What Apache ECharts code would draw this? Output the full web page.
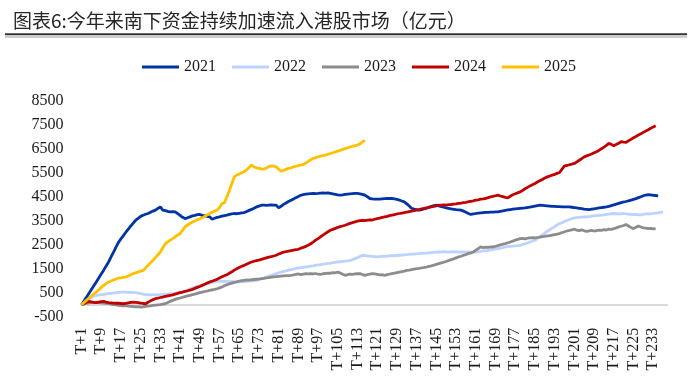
<!DOCTYPE html>
<html>
<head>
<meta charset="utf-8">
<script src="https://cdn.jsdelivr.net/npm/echarts@6/dist/echarts.min.js"></script>
<style>
html,body{margin:0;padding:0;background:#fff;}
#chart{width:692px;height:381px;}
</style>
</head>
<body>
<div id="chart"></div>
<script>
// ---- data ----
var titleText = '图表6:今年来南下资金持续加速流入港股市场（亿元）';
var seriesNames = ['2021', '2022', '2023', '2024', '2025'];
var categoryCount = 239;
var categories = [];
for (var i = 1; i <= categoryCount; i++) categories.push('T+' + i);

var y2021 = [0,150,310,470,630,790,950,
1110,1280,1440,1610,1780,
1990,2190,2400,2600,
2740,2880,3020,3150,
3280,3400,3520,
3600,3680,3730,3770,3800,
3850,3900,3940,4010,4075,
3940,3920,3890,3870,3880,3870,
3800,3720,3640,3590,3620,3660,
3700,3720,3750,3760,
3720,3700,3680,3660,3560,
3600,3640,3660,3690,3710,3730,
3760,3780,3800,3790,3810,3830,3840,
3880,3930,3970,4020,4075,4110,4145,
4150,4140,4150,4160,4150,4145,
4040,4100,4180,4240,4300,4355,
4400,4460,4510,4560,4590,
4610,4620,4630,4640,4630,4635,4650,4660,4650,4660,
4640,4620,4600,4580,4565,
4580,4600,4610,4620,4630,4640,4635,
4620,4600,4565,4500,4425,4410,4400,4395,
4400,4410,4420,4430,4425,4425,
4410,4390,4360,4320,4285,
4200,4110,4010,3980,3960,3940,
3960,3990,4020,4060,4100,4130,4145,
4120,4090,4060,4030,4010,
3990,3975,3960,3950,3940,
3900,3850,3800,3760,
3780,3800,3820,3830,3840,
3845,3850,3855,3860,3865,3870,
3890,3910,3930,3950,3965,3980,
3995,4005,4015,4025,4035,
4050,4070,4090,4110,4130,4145,
4140,4130,4120,4110,4100,4095,4090,4085,4080,4080,4078,4075,
4060,4045,4030,4015,4000,3985,3975,3965,
3980,3995,4010,4030,4045,4060,4075,
4100,4130,4160,4190,4220,4250,4280,4300,4330,4355,
4390,4420,4460,4500,4540,4570,4590,
4580,4560,4550,4535];

var y2022 = [0,80,160,230,300,350,390,
400,420,430,450,460,
470,480,500,510,520,525,
520,515,510,505,500,
480,460,440,415,
420,410,415,420,410,415,415,
430,440,450,460,470,490,510,525,
560,600,650,700,730,770,800,
830,850,880,900,930,950,975,
980,970,980,975,
960,970,955,960,950,955,960,
970,985,995,1005,1015,
1050,1080,1110,1150,1190,1225,
1260,1290,1330,1360,
1390,1410,1440,1460,1480,1510,1530,
1540,1560,1570,1590,1610,1620,1640,1660,
1670,1690,1700,1720,1730,1750,1760,1780,
1790,1800,1820,1830,1850,
1880,1920,1960,2010,2060,
2050,2030,2020,2010,2000,1990,
2000,2010,2010,2020,2030,2040,2040,2050,2060,2070,2080,2090,
2100,2110,2110,2120,2130,2140,2150,2150,2160,2170,2180,2190,2195,
2200,2210,2200,2190,2200,2210,2200,2190,2195,2200,2190,2200,2190,2195,
2205,2215,2225,2240,2250,2265,
2280,2300,2320,2340,2360,2380,2405,
2420,2430,2440,2450,2460,2475,
2510,2540,2570,2610,2650,2685,
2760,2830,2900,2980,3060,
3120,3190,3250,3320,3380,
3420,3470,3510,3550,3590,3615,
3630,3640,3650,3655,3660,
3670,3690,3700,3710,3720,3730,
3740,3760,3770,3790,3800,
3790,3780,3790,3800,3780,3770,3760,3750,3760,3740,3740,
3760,3780,3790,3780,3800,
3820,3830,3850,3865];

var y2023 = [0,30,60,80,100,90,110,
90,80,70,60,40,
20,0,-10,-30,
-40,-50,-40,-60,
-70,-80,-90,-80,-100,
-90,-70,-60,-50,-30,
-20,-10,0,20,40,
90,140,180,220,
250,280,310,340,370,390,
420,440,470,500,525,
550,570,600,620,640,665,
700,740,790,835,
870,900,930,950,980,1000,1015,
1030,1020,1040,1050,1060,1070,1085,
1100,1120,1130,1150,
1160,1170,1180,1190,1200,1210,1215,1225,
1240,1260,1280,1250,1270,1290,1280,1295,
1280,1300,1270,1265,
1290,1300,1320,1310,1340,1330,1360,
1320,1270,1225,
1250,1270,1260,1280,1290,1295,
1260,1225,1250,1270,1295,
1280,1260,1240,1250,1225,
1250,1270,1295,
1320,1340,1360,1380,1400,1430,
1440,1460,1480,1500,1510,1530,1550,1570,
1600,1620,1650,1680,1710,
1740,1770,1800,1840,1880,1910,1950,1990,
2020,2060,2090,2130,2160,2195,
2270,2340,2405,
2380,2400,2390,2410,2405,
2430,2460,2490,2520,2545,
2580,2610,2650,2690,2720,2755,
2760,2740,2770,2780,2790,2780,2800,2820,
2840,2850,2870,2880,2900,2920,2940,2965,
3000,3040,3070,3100,3120,3145,
3110,3090,3120,3080,3060,
3080,3100,3070,3090,3110,3100,
3130,3110,3150,3140,3170,
3200,3240,3270,3300,3340,
3280,3220,3170,3230,3280,
3240,3200,3190,3170,3180,3160,3170];

var y2024 = [0,50,100,140,
120,100,85,
110,130,140,110,85,
80,70,60,60,50,40,
60,80,100,110,
100,90,70,50,40,
100,160,210,250,
270,300,320,350,370,390,
410,440,470,500,525,
560,580,610,640,
680,720,760,805,
850,900,945,
980,1020,1055,
1110,1160,1210,1250,
1310,1370,1440,1500,
1550,1600,1640,1690,1740,1780,
1810,1840,1860,1890,1920,
1950,1980,2000,2030,2060,
2110,2150,2195,
2210,2230,2250,2270,2290,2310,
2350,2390,2430,2475,
2540,2610,2690,2755,
2830,2900,2970,3040,3100,
3140,3180,3220,3250,3280,3310,
3350,3390,3420,3450,3480,
3500,3510,3500,3520,3530,3530,
3560,3590,3610,3640,3660,
3680,3710,3730,3750,3780,3800,
3820,3840,3860,3880,3895,
3920,3940,3960,3990,4010,4035,
4060,4080,4100,4120,4145,
4150,4160,4150,4170,4175,
4190,4200,4220,4230,4250,4260,
4290,4310,4330,4355,
4370,4400,4410,4425,
4460,4490,4510,4540,4565,
4530,4500,4470,4450,
4520,4580,4620,4660,4700,
4760,4830,4890,4950,5000,5050,
5110,5170,5220,5280,5325,
5360,5400,5430,5470,5510,
5650,5785,5800,5830,5860,5885,
5950,6020,6090,6160,
6200,6240,6280,6330,6370,
6430,6500,6560,6640,6720,
6680,6620,
6680,6730,6790,6770,6760,
6830,6890,6955,
7010,7070,7120,7180,
7240,7290,7350,7400,7455];

var y2025 = [0,90,180,270,360,450,525,
620,720,805,880,945,
990,1030,1070,1110,
1120,1140,1150,
1200,1250,1295,
1330,1360,1400,1430,
1530,1640,1750,1850,
1970,2080,2195,
2370,2545,
2620,2690,2755,
2830,2900,2965,
3100,3240,
3310,3380,3450,
3490,3540,3580,3615,
3680,3740,3800,
3850,3900,3940,
4050,4215,4250,4500,4750,
5050,5325,
5400,5450,5500,5535,
5620,5720,5815,
5750,5700,5680,5660,5650,
5700,5750,5785,
5770,5745,5650,5565,
5600,5640,5680,5705,
5740,5770,5800,5820,5845,
5900,5970,6040,6095,
6130,6160,6190,6210,6235,
6270,6300,6330,6370,6400,
6430,6470,6500,6540,6580,
6600,6630,6650,
6700,6780,6850];

var seriesData = [y2021, y2022, y2023, y2024, y2025];
var seriesColors = ['#0033A6', '#BCD2FF', '#8C8C8C', '#C00000', '#FFC000'];
var yMin = -500, yMax = 8500, yStep = 1000;

// ---- chart ----
var chart = echarts.init(document.getElementById('chart'), null, {renderer: 'canvas'});
var latin = '"Liberation Serif", "Times New Roman", serif';

var series = seriesNames.map(function (name, k) {
  return {
    name: name,
    type: 'line',
    data: seriesData[k],
    showSymbol: false,
    symbol: 'none',
    smooth: false,
    lineStyle: {width: 2.8, color: seriesColors[k]},
    itemStyle: {color: seriesColors[k]},
    z: 3
  };
});
// horizontal axis line crossing at 0
series[0].markLine = {
  silent: true,
  symbol: ['none', 'none'],
  label: {show: false},
  lineStyle: {color: '#D9D9D9', width: 2, type: 'solid'},
  data: [{yAxis: 0}],
  z: 1
};

chart.setOption({
  animation: false,
  backgroundColor: '#ffffff',
  title: {
    text: titleText,
    left: 8,
    top: 6,
    textStyle: {
      fontFamily: '"Noto Sans CJK SC", sans-serif',
      fontSize: 19,
      fontWeight: 'normal',
      color: '#262626'
    }
  },
  graphic: [
    {type: 'line', shape: {x1: 5, y1: 34.3, x2: 687, y2: 34.3}, style: {stroke: '#333333', lineWidth: 2}},
    {type: 'line', shape: {x1: 5, y1: 37, x2: 687, y2: 37}, style: {stroke: '#9a9a9a', lineWidth: 1}}
  ],
  legend: {
    data: seriesNames,
    left: 137,
    top: 54,
    icon: 'rect',
    itemWidth: 37,
    itemHeight: 3,
    itemGap: 16,
    textStyle: {fontFamily: latin, fontSize: 16, color: '#1a1a1a'}
  },
  grid: {left: 81.5, right: 24, top: 100.7, bottom: 64.3, containLabel: false},
  xAxis: {
    type: 'category',
    data: categories,
    boundaryGap: false,
    axisLine: {show: false},
    axisTick: {show: false},
    splitLine: {show: false},
    axisLabel: {
      interval: 7,
      rotate: 90,
      margin: 11,
      fontFamily: latin,
      fontSize: 16,
      color: '#1a1a1a'
    }
  },
  yAxis: {
    type: 'value',
    min: yMin,
    max: yMax,
    interval: yStep,
    axisLine: {show: false},
    axisTick: {show: false},
    splitLine: {show: false},
    axisLabel: {
      margin: 18,
      fontFamily: latin,
      fontSize: 16,
      color: '#1a1a1a',
      formatter: function (v) { return String(v); }
    }
  },
  series: series
});
</script>
</body>
</html>
